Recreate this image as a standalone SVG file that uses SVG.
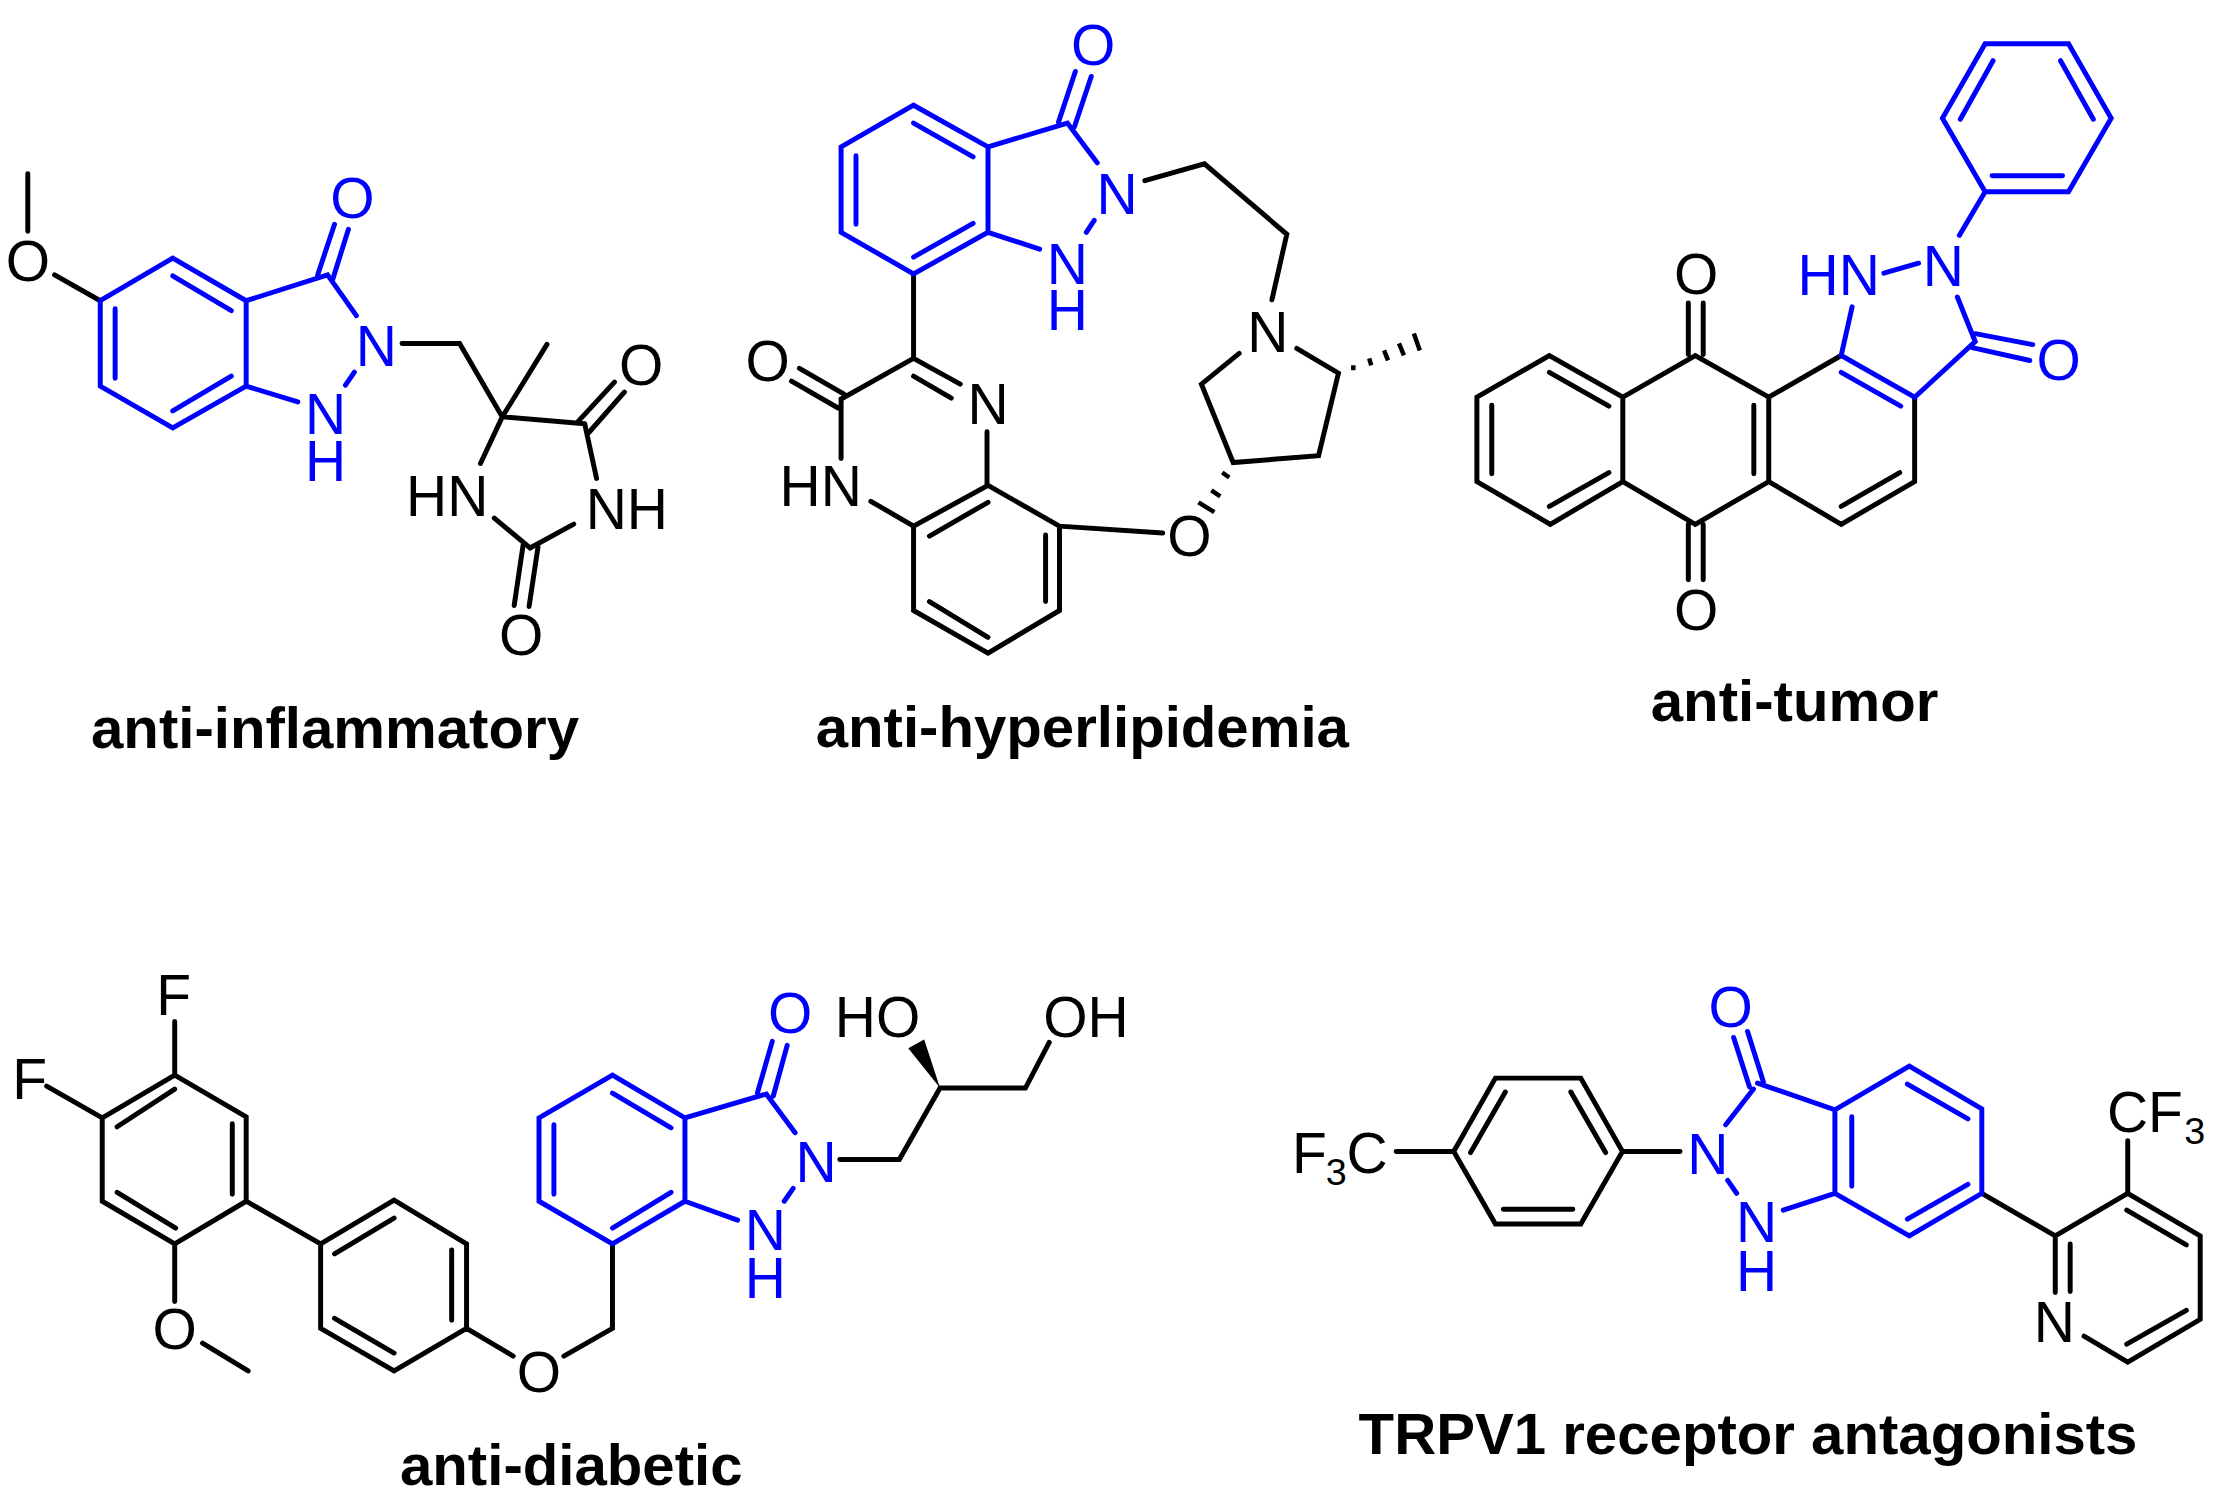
<svg xmlns="http://www.w3.org/2000/svg" width="2228" height="1505" viewBox="0 0 2228 1505">
<style>
.k{fill:none;stroke:#000;stroke-width:5;stroke-linecap:round;stroke-linejoin:miter}
.u{fill:none;stroke:#0000ff;stroke-width:5;stroke-linecap:round;stroke-linejoin:miter}
.h{fill:none;stroke:#000;stroke-width:4.5;stroke-linecap:butt}
text{font-family:"Liberation Sans",Arial,sans-serif}
.a{font-size:57.4px;text-anchor:middle}
.s{font-size:57.4px}
.b{fill:#0000ff}
.l{font-size:58.6px;font-weight:bold;text-anchor:middle}
</style>
<rect width="2228" height="1505" fill="#fff"/>
<g id="anti-inflammatory" transform="translate(0 .95) scale(.99266)">
<g id="bonds-1">
<path class="k" d="M28 174V232M55 276L101 302M405 345H463L506 419L551 346M506 419L589 426M582 424L619 384M593 435L629 394M589 426L601 481M578 527L534 551L498 521M527 548L518 609M542 550L533 610M506 419L484 466"/>
<path class="u" d="M101 302L174 259L248 302V388L174 430L101 388ZM174 277L233 312M116 310V380M174 413L233 378M248 302L330 276L359 317M320 276L337 225M335 281L351 230M357 374L348 387M248 388L300 404"/>
</g>
<text class="a" x="28" y="282">O</text>
<text class="a b" x="355" y="219">O</text>
<text class="a b" x="379" y="368">N</text>
<text class="a b" x="328" y="436">N</text>
<text class="a b" x="328" y="484">H</text>
<text class="a" x="646" y="387">O</text>
<text class="s" x="590" y="532">NH</text>
<text class="s" x="409" y="519">HN</text>
<text class="a" x="525" y="659">O</text>
<text class="l" x="337.5" y="753">anti-inflammatory</text>
</g>
<g id="anti-hyperlipidemia" transform="translate(5.28 0) scale(.99266)">
<g id="bonds-2">
<path class="k" d="M915 276V361L842 402V462M915 361L962 387M915 379L953 401M800 371L845 397M792 384L839 411M872 505L915 530L990 489L1062 530V615L990 658L915 615V530M931 540L990 506M1048 539V606M931 606L990 642M989 435V489M1062 530L1166 537M1148 182L1208 165L1291 236L1276 302M1301 351L1343 376L1323 459L1237 466L1205 387L1243 356"/>
<path class="h" d="M1358 368V373M1374 361L1376 368M1389 353L1393 363M1404 346L1409 358M1419 336L1425 353M1226 476L1233 481M1215 494L1224 500M1202 506L1218 516"/>
<path class="u" d="M915 106L990 148V234L915 276L842 234V148ZM915 124L975 158M857 157V226M915 259L975 225M990 148L1070 124L1100 164M1061 123L1078 72M1077 128L1094 77M1097 222L1089 234M990 234L1042 251"/>
</g>
<text class="a b" x="1096" y="65">O</text>
<text class="a b" x="1120" y="216">N</text>
<text class="a b" x="1070" y="286">N</text>
<text class="a b" x="1070" y="332">H</text>
<text class="a" x="1272" y="355">N</text>
<text class="a" x="990" y="427">N</text>
<text class="a" x="768" y="384">O</text>
<text class="s" x="780" y="510">HN</text>
<text class="a" x="1193" y="560">O</text>
<text class="l" x="1085" y="753">anti-hyperlipidemia</text>
</g>
<g id="anti-tumor" transform="translate(10.72 .15) scale(.99266)">
<g id="bonds-3">
<path class="k" d="M1844 358L1771 400V485L1844 528L1918 485V400M1903 476L1844 510M1756 408V477M1771 400L1697 358L1624 400V485L1697 528L1771 485M1624 400L1550 358L1477 400V485L1551 528L1624 485M1550 375L1610 409M1492 408V477M1550 510L1610 476M1690 305V357M1705 305V357M1690 528V584M1705 528V584"/>
<path class="u" d="M1989 44H2073L2116 119L2073 193H1989L1946 119ZM1997 61L1964 120M2065 61L2098 120M1996 177H2067M1989 193L1963 237M1887 275L1922 265M1855 309L1844 358L1918 400L1979 344L1961 299M1844 375L1904 409M1979 336L2037 347M1976 350L2034 363"/>
</g>
<text class="a" x="1698" y="296">O</text>
<text class="a" x="1698" y="635">O</text>
<text class="s b" x="1800" y="297">HN</text>
<text class="a b" x="1947" y="288">N</text>
<text class="a b" x="2063" y="383">O</text>
<text class="l" x="1797" y="726">anti-tumor</text>
</g>
<g id="anti-diabetic" transform="translate(0 7.05) scale(.99266)">
<g id="bonds-4">
<path class="k" d="M176 1022V1076L248 1118V1203L176 1246L103 1203V1119L176 1076M176 1090L118 1128M234 1125V1196M177 1230L118 1194M47 1087L103 1119M176 1246V1304M204 1346L250 1374M248 1203L323 1246L397 1202L470 1246V1331L397 1374L323 1331V1246M337 1256L397 1220M455 1252V1323M337 1321L397 1356M470 1331L517 1359M568 1359L617 1331V1246M846 1161H906L947 1089H1033L1057 1043"/>
<path class="u" d="M617 1076L690 1119V1203L617 1246L543 1203V1119ZM617 1094L676 1129M558 1126V1196M617 1230L676 1194M690 1119L772 1095L801 1134M763 1094L778 1042M779 1097L793 1046M799 1190L790 1203M690 1203L743 1222"/>
<path d="M947 1089L915 1049L931 1040Z"/>
</g>
<text class="a" x="175" y="1015">F</text>
<text class="a" x="30" y="1100">F</text>
<text class="a" x="176" y="1352">O</text>
<text class="a" x="543" y="1395">O</text>
<text class="a b" x="796" y="1034">O</text>
<text class="a b" x="822" y="1184">N</text>
<text class="a b" x="771" y="1252">N</text>
<text class="a b" x="771" y="1301">H</text>
<text class="s" x="841" y="1038">HO</text>
<text class="s" x="1051" y="1038">OH</text>
<text class="l" x="575.5" y="1489">anti-diabetic</text>
</g>
<g id="trpv1-antagonists" transform="translate(9.4 7.05) scale(.99266)">
<g id="bonds-5">
<path class="k" d="M1397 1153H1455L1497 1079H1583L1625 1153L1583 1226H1497L1455 1153M1507 1093L1472 1154M1573 1093L1608 1154M1505 1211H1575M1625 1153H1683M1987 1195L2061 1238L2134 1195L2207 1238V1322L2134 1365L2090 1339M2061 1238V1295M2076 1246V1294M2133 1212L2193 1247M2193 1313L2133 1347M2134 1195V1142"/>
<path class="u" d="M1737 1038L1753 1088M1751 1032L1767 1083M1757 1090L1729 1126M1731 1182L1740 1195M1761 1084L1839 1111L1914 1067L1987 1110V1195L1914 1238L1839 1195V1111M1856 1118V1188M1912 1085L1973 1120M1973 1186L1912 1221M1839 1195L1787 1212"/>
</g>
<text class="s" x="1292" y="1175">F</text>
<text style="font-size:38px" x="1326" y="1187">3</text>
<text class="s" x="1347" y="1175">C</text>
<text class="a b" x="1711" y="1176">N</text>
<text class="a b" x="1760" y="1244">N</text>
<text class="a b" x="1760" y="1293">H</text>
<text class="a b" x="1734" y="1027">O</text>
<text class="s" x="2113" y="1133">CF</text>
<text style="font-size:38px" x="2191" y="1145">3</text>
<text class="a" x="2060" y="1345">N</text>
<text class="l" x="1751.5" y="1458">TRPV1 receptor antagonists</text>
</g>
</svg>
